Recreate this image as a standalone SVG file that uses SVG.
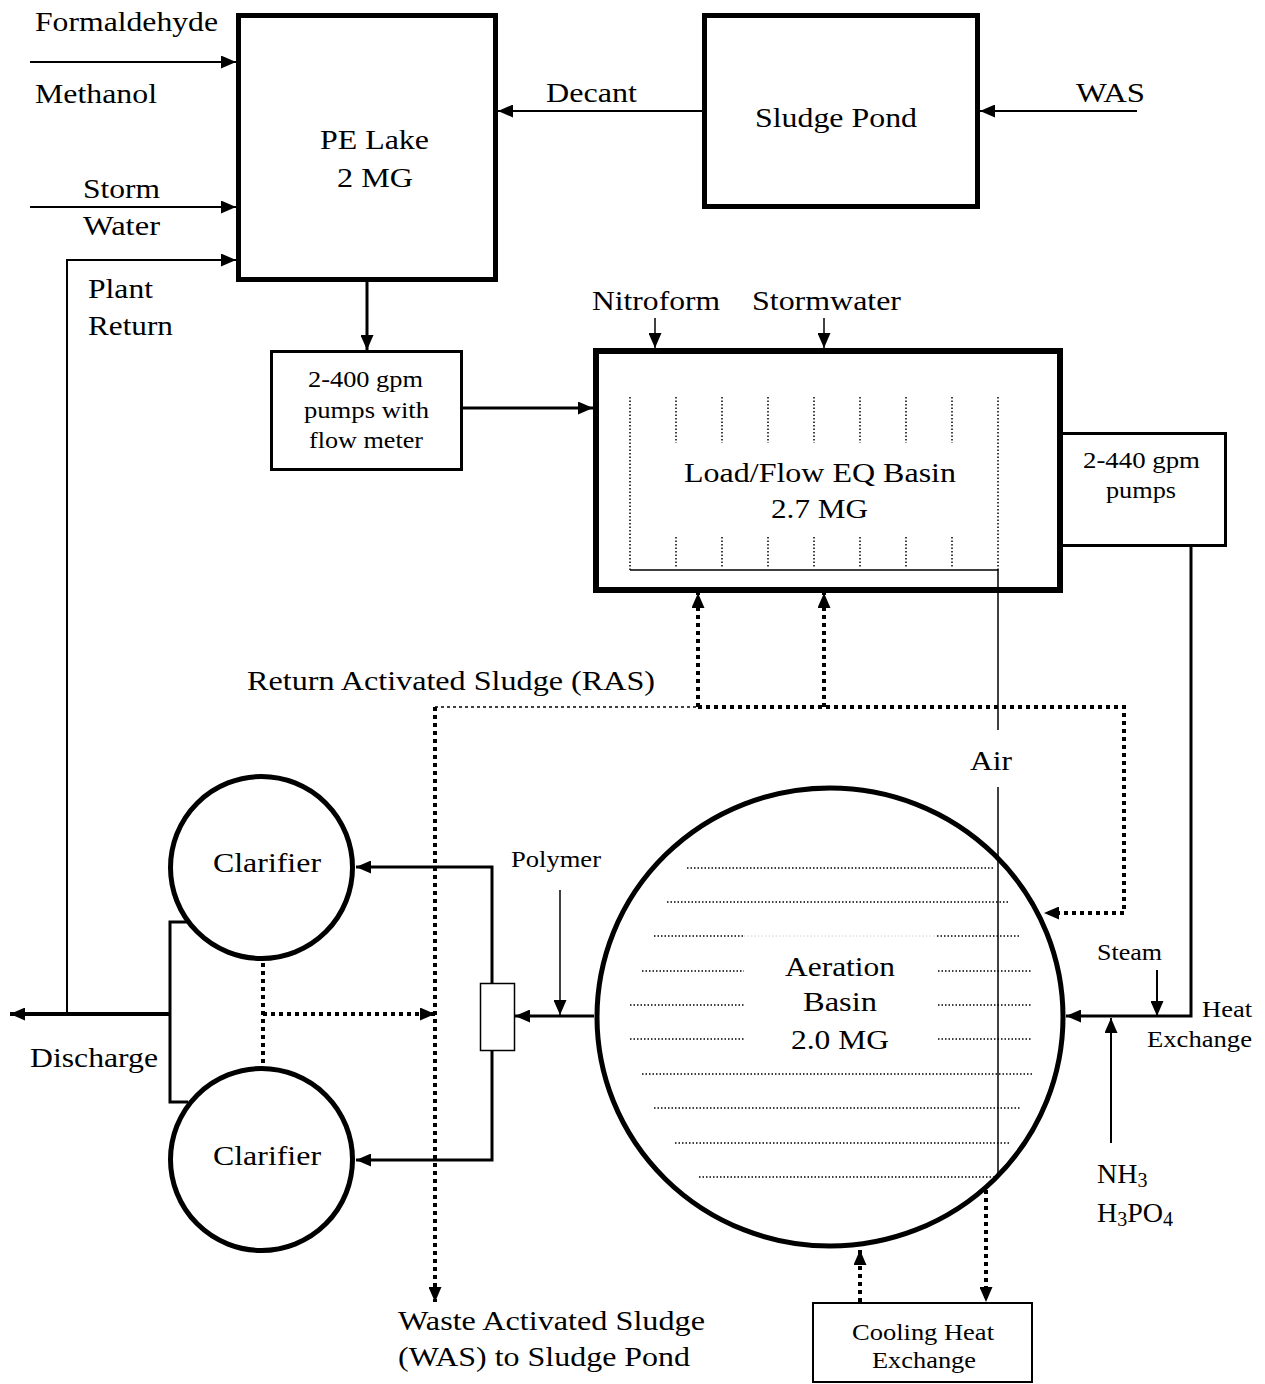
<svg xmlns="http://www.w3.org/2000/svg" width="1265" height="1384" viewBox="0 0 1265 1384">
<style>
text{font-family:"Liberation Serif","Times New Roman",serif;fill:#000}
.t{font-size:28px}
.m{font-size:24px}
.box{fill:none;stroke:#000}
.ln{fill:none;stroke:#000}
.dot{fill:none;stroke:#000;stroke-width:4;stroke-dasharray:4 4}
.fine{fill:none;stroke:#000;stroke-width:1.5;stroke-dasharray:1.5 2}
</style>
<defs>
<marker id="ah" markerUnits="userSpaceOnUse" markerWidth="15" markerHeight="13" viewBox="0 0 15 13" refX="15" refY="6.5" orient="auto">
<path d="M0,0 L15,6.5 L0,13 z" fill="#000"/>
</marker>
</defs>
<rect width="1265" height="1384" fill="#fff"/>

<g id="pe-lake">
<rect class="box" x="238.5" y="15.5" width="257" height="264" stroke-width="5"/>
<text class="t" x="320" y="149" textLength="109" lengthAdjust="spacingAndGlyphs">PE Lake</text>
<text class="t" x="337" y="187" textLength="76" lengthAdjust="spacingAndGlyphs">2 MG</text>
</g>
<g id="sludge-pond">
<rect class="box" x="704.5" y="15.5" width="273" height="191" stroke-width="5"/>
<text class="t" x="755" y="127" textLength="162" lengthAdjust="spacingAndGlyphs">Sludge Pond</text>
</g>
<g id="pumps-400">
<rect class="box" x="271.5" y="351.5" width="190" height="118" stroke-width="3"/>
<text class="m" x="308" y="387" textLength="115" lengthAdjust="spacingAndGlyphs">2-400 gpm</text>
<text class="m" x="304" y="418" textLength="125" lengthAdjust="spacingAndGlyphs">pumps with</text>
<text class="m" x="309" y="448" textLength="114" lengthAdjust="spacingAndGlyphs">flow meter</text>
</g>
<g id="pumps-440">
<rect class="box" x="1061.5" y="433.5" width="164" height="112" stroke-width="3"/>
<text class="m" x="1083" y="468" textLength="117" lengthAdjust="spacingAndGlyphs">2-440 gpm</text>
<text class="m" x="1106" y="498" textLength="70" lengthAdjust="spacingAndGlyphs">pumps</text>
</g>
<g id="eq-basin">
<rect class="box" x="596" y="351" width="464" height="239" stroke-width="6"/>
<g class="fine">
<path d="M630,397V570M998,397V570"/>
<path d="M676,397V443M722,397V443M768,397V443M814,397V443M860,397V443M906,397V443M952,397V443"/>
<path d="M676,537V567M722,537V567M768,537V567M814,537V567M860,537V567M906,537V567M952,537V567"/>
</g>
<text class="t" x="684" y="482" textLength="272" lengthAdjust="spacingAndGlyphs">Load/Flow EQ Basin</text>
<text class="t" x="771" y="518" textLength="97" lengthAdjust="spacingAndGlyphs">2.7 MG</text>
</g>
<g id="aeration-basin">
<ellipse class="box" cx="830" cy="1017" rx="233" ry="229" stroke-width="5"/>
<g class="fine">
<path d="M687,868H995M667,902H1009M654,936H744M937,936H1021M642,971H744M938,971H1032M630,1005H744M938,1005H1032M630,1039H744M938,1039H1032M642,1074H1032M654,1108H1021M675,1143H1009M699,1177H995"/>
</g>
<path d="M744,936H937" fill="none" stroke="#d0d0d0" stroke-width="1" stroke-dasharray="1.5 2"/>
<text class="t" x="785" y="976" textLength="110" lengthAdjust="spacingAndGlyphs">Aeration</text>
<text class="t" x="803" y="1011" textLength="74" lengthAdjust="spacingAndGlyphs">Basin</text>
<text class="t" x="791" y="1049" textLength="98" lengthAdjust="spacingAndGlyphs">2.0 MG</text>
</g>
<g id="clarifier-1">
<circle class="box" cx="261.5" cy="867.5" r="91" stroke-width="5"/>
<text class="t" x="213" y="872" textLength="108" lengthAdjust="spacingAndGlyphs">Clarifier</text>
</g>
<g id="clarifier-2">
<circle class="box" cx="261.5" cy="1159.5" r="91" stroke-width="5"/>
<text class="t" x="213" y="1165" textLength="108" lengthAdjust="spacingAndGlyphs">Clarifier</text>
</g>
<g id="splitter">
<rect x="480.5" y="983.5" width="34" height="67" fill="#fff" stroke="#000" stroke-width="1.5"/>
</g>
<g id="cooling-heat-exchange">
<rect class="box" x="813" y="1303" width="219" height="79" stroke-width="2"/>
<text class="m" x="852" y="1340" textLength="142" lengthAdjust="spacingAndGlyphs">Cooling Heat</text>
<text class="m" x="872" y="1368" textLength="104" lengthAdjust="spacingAndGlyphs">Exchange</text>
</g>

<g id="connectors">
<line class="ln" x1="30" y1="62" x2="236" y2="62" stroke-width="2" marker-end="url(#ah)"/>
<line class="ln" x1="30" y1="207" x2="236" y2="207" stroke-width="2" marker-end="url(#ah)"/>
<polyline class="ln" points="67,1015 67,260 236,260" stroke-width="2" marker-end="url(#ah)"/>
<line class="ln" x1="702" y1="111" x2="498" y2="111" stroke-width="2" marker-end="url(#ah)"/>
<line class="ln" x1="1137" y1="111" x2="980" y2="111" stroke-width="2" marker-end="url(#ah)"/>
<line class="ln" x1="367" y1="282" x2="367" y2="350" stroke-width="3" marker-end="url(#ah)"/>
<line class="ln" x1="463" y1="408" x2="593" y2="408" stroke-width="3" marker-end="url(#ah)"/>
<line class="ln" x1="655" y1="318" x2="655" y2="348" stroke-width="1.5" marker-end="url(#ah)"/>
<line class="ln" x1="824" y1="318" x2="824" y2="348" stroke-width="1.5" marker-end="url(#ah)"/>
<polyline class="ln" points="1191,547 1191,1016 1066,1016" stroke-width="3" marker-end="url(#ah)"/>
<line class="ln" x1="1157" y1="970" x2="1157" y2="1016" stroke-width="2" marker-end="url(#ah)"/>
<line class="ln" x1="1111" y1="1143" x2="1111" y2="1018" stroke-width="2" marker-end="url(#ah)"/>
<polyline class="ln" points="630,570 998,570 998,730" stroke-width="1.5"/>
<line class="ln" x1="998" y1="787" x2="998" y2="1177" stroke-width="1.5"/>
<line class="ln" x1="435" y1="707" x2="698" y2="707" stroke-width="1.5" stroke-dasharray="3 3"/>
<polyline class="dot" points="698,707 1124,707 1124,913 1044,913" marker-end="url(#ah)"/>
<line class="dot" x1="698" y1="707" x2="698" y2="593" marker-end="url(#ah)"/>
<line class="dot" x1="824" y1="707" x2="824" y2="593" marker-end="url(#ah)"/>
<line class="dot" x1="435" y1="707" x2="435" y2="1302" marker-end="url(#ah)"/>
<line class="ln" x1="594" y1="1016" x2="515" y2="1016" stroke-width="3" marker-end="url(#ah)"/>
<line class="ln" x1="560" y1="890" x2="560" y2="1015" stroke-width="1.5" marker-end="url(#ah)"/>
<polyline class="ln" points="492,983 492,867 356,867" stroke-width="3" marker-end="url(#ah)"/>
<polyline class="ln" points="492,1051 492,1160 356,1160" stroke-width="3" marker-end="url(#ah)"/>
<polyline class="ln" points="188,922 170,922 170,1102 188,1102" stroke-width="3"/>
<line class="ln" x1="170" y1="1014" x2="10" y2="1014" stroke-width="4" marker-end="url(#ah)"/>
<line class="dot" x1="263" y1="963" x2="263" y2="1067"/>
<line class="dot" x1="263" y1="1014" x2="435" y2="1014" marker-end="url(#ah)"/>
<line class="dot" x1="860" y1="1302" x2="860" y2="1250" marker-end="url(#ah)"/>
<line class="dot" x1="986" y1="1190" x2="986" y2="1302" marker-end="url(#ah)"/>
</g>

<g id="labels">
<text class="t" x="35" y="31" textLength="183" lengthAdjust="spacingAndGlyphs">Formaldehyde</text>
<text class="t" x="35" y="103" textLength="122" lengthAdjust="spacingAndGlyphs">Methanol</text>
<text class="t" x="83" y="198" textLength="77" lengthAdjust="spacingAndGlyphs">Storm</text>
<text class="t" x="83" y="235" textLength="77" lengthAdjust="spacingAndGlyphs">Water</text>
<text class="t" x="88" y="298" textLength="65" lengthAdjust="spacingAndGlyphs">Plant</text>
<text class="t" x="88" y="335" textLength="85" lengthAdjust="spacingAndGlyphs">Return</text>
<text class="t" x="546" y="102" textLength="91" lengthAdjust="spacingAndGlyphs">Decant</text>
<text class="t" x="1076" y="102" textLength="69" lengthAdjust="spacingAndGlyphs">WAS</text>
<text class="t" x="592" y="310" textLength="128" lengthAdjust="spacingAndGlyphs">Nitroform</text>
<text class="t" x="752" y="310" textLength="149" lengthAdjust="spacingAndGlyphs">Stormwater</text>
<text class="t" x="247" y="690" textLength="408" lengthAdjust="spacingAndGlyphs">Return Activated Sludge (RAS)</text>
<text class="t" x="970" y="770" textLength="42" lengthAdjust="spacingAndGlyphs">Air</text>
<text class="m" x="511" y="867" textLength="90" lengthAdjust="spacingAndGlyphs">Polymer</text>
<text class="m" x="1097" y="960" textLength="65" lengthAdjust="spacingAndGlyphs">Steam</text>
<text class="m" x="1202" y="1017" textLength="50" lengthAdjust="spacingAndGlyphs">Heat</text>
<text class="m" x="1147" y="1047" textLength="105" lengthAdjust="spacingAndGlyphs">Exchange</text>
<text class="t" x="30" y="1067" textLength="128" lengthAdjust="spacingAndGlyphs">Discharge</text>
<text class="t" x="1097" y="1183">NH<tspan font-size="20" dy="4">3</tspan></text>
<text class="t" x="1097" y="1222">H<tspan font-size="20" dy="4">3</tspan><tspan dy="-4">PO</tspan><tspan font-size="20" dy="4">4</tspan></text>
<text class="t" x="398" y="1330" textLength="307" lengthAdjust="spacingAndGlyphs">Waste Activated Sludge</text>
<text class="t" x="398" y="1366" textLength="292" lengthAdjust="spacingAndGlyphs">(WAS) to Sludge Pond</text>
</g>
</svg>
